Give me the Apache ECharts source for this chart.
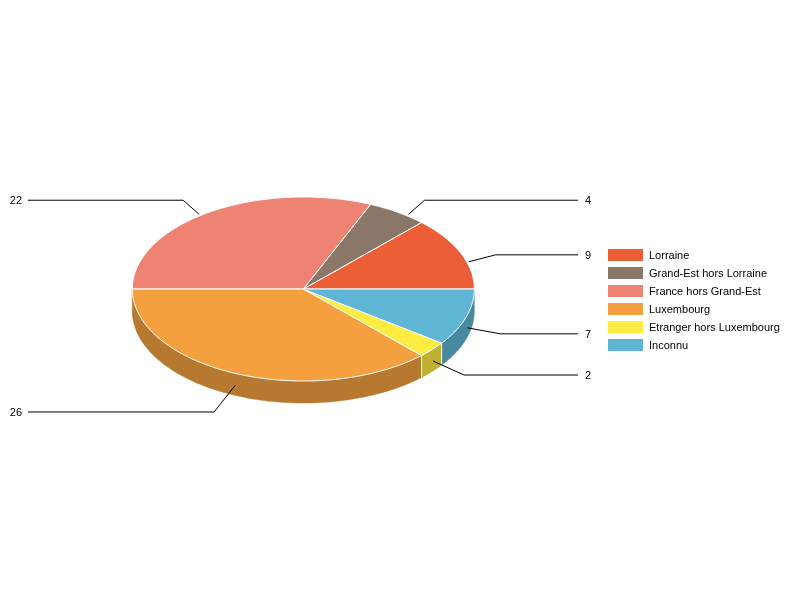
<!DOCTYPE html>
<html><head><meta charset="utf-8">
<style>html,body{margin:0;padding:0;background:#fff}#c{width:800px;height:600px}</style>
<script src="https://cdn.jsdelivr.net/npm/echarts@6/dist/echarts.min.js"></script>
</head><body><div id="c"></div>
<script>
const categories = ['Lorraine','Grand-Est hors Lorraine','France hors Grand-Est','Luxembourg','Etranger hors Luxembourg','Inconnu'];
const values = [9,4,22,26,2,7];
const colors = ['#EB5E37','#8A7767','#EF8373','#F5A03E','#FFEC42','#5FB6D4'];
const wallColors = ['#B1472A','#68594D','#B36256','#B7782F','#BFB131','#47899F'];

const CX=303.3, CY=289, RX=171, RY=92, DEPTH=22;
const LABEL_LEFT=28, LABEL_RIGHT=578;
// leader line layout: offset from slice mid-point to line start, then start to elbow
const leaderStart = [[8,9],[11,2],[-10,2],[-1,12],[1,11.5],[1.5,10.4]];
const leaderElbow = [[27,-7],[16,-14],[-16,-14],[-21,26.4],[31,14],[33,6]];

const total = values.reduce((a,b)=>a+b,0);
const pt = (deg,dy=0)=>{const t=deg*Math.PI/180;return [CX+RX*Math.cos(t),CY-RY*Math.sin(t)+dy];};
const arc = (a,b,dy=0)=>{const n=Math.max(2,Math.ceil((b-a)/1));const o=[];for(let i=0;i<=n;i++)o.push(pt(a+(b-a)*i/n,dy));return o;};

function makeRender(idx){
  return function(params,api){
    const v=api.value(0);
    let before=0;for(let i=0;i<idx;i++)before+=values[i];
    const a0=before/total*360, a1=(before+v)/total*360, mid=(a0+a1)/2;
    const children=[];
    // side wall: only the front half of the disc is visible
    const wa=Math.max(a0,180), wb=a1;
    if(wb>wa){
      const top=arc(wa,wb), bot=arc(wa,wb,DEPTH).reverse();
      children.push({type:'polygon',z2:1,shape:{points:top.concat(bot)},style:{fill:wallColors[idx],stroke:wallColors[idx],lineWidth:0.5}});
      if(wa>180){
        const p=pt(wa);
        children.push({type:'line',z2:2,shape:{x1:p[0],y1:p[1],x2:p[0],y2:p[1]+DEPTH},style:{stroke:'#fff',lineWidth:1}});
      }
    }
    // top face
    children.push({type:'polygon',z2:5,shape:{points:[[CX,CY]].concat(arc(a0,a1))},style:{fill:colors[idx],stroke:'#fff',lineWidth:1,lineJoin:'round'}});
    // leader line and label
    const m=pt(mid);
    const s=[m[0]+leaderStart[idx][0],m[1]+leaderStart[idx][1]];
    const e=[s[0]+leaderElbow[idx][0],s[1]+leaderElbow[idx][1]];
    const right=s[0]>CX;
    const endX=right?LABEL_RIGHT:LABEL_LEFT;
    children.push({type:'polyline',z2:8,shape:{points:[s,e,[endX,e[1]]]},style:{stroke:'#000',lineWidth:1,fill:null}});
    children.push({type:'text',z2:9,style:{text:String(v),x:right?endX+7:endX-6,y:e[1]+0.7,align:right?'left':'right',verticalAlign:'middle',font:'11px "Liberation Sans", Arial, sans-serif',fill:'#000'}});
    return {type:'group',children};
  };
}

const chart=echarts.init(document.getElementById('c'),null,{renderer:'canvas'});
chart.setOption({
  animation:false,
  backgroundColor:'#fff',
  legend:{
    orient:'vertical',left:608,top:249,itemWidth:35,itemHeight:12,itemGap:6,padding:0,
    icon:'rect',selectedMode:false,data:categories,
    formatter:'{a|{name}}',
    textStyle:{color:'#000',fontSize:11,fontFamily:'"Liberation Sans", Arial, sans-serif',
      rich:{a:{color:'#000',fontSize:11,fontFamily:'"Liberation Sans", Arial, sans-serif',padding:[1,0,0,1],lineHeight:12}}}
  },
  series:categories.map((name,i)=>({
    type:'custom',name,coordinateSystem:'none',silent:true,
    itemStyle:{color:colors[i]},
    data:[[values[i]]],
    renderItem:makeRender(i)
  }))
});
</script></body></html>
